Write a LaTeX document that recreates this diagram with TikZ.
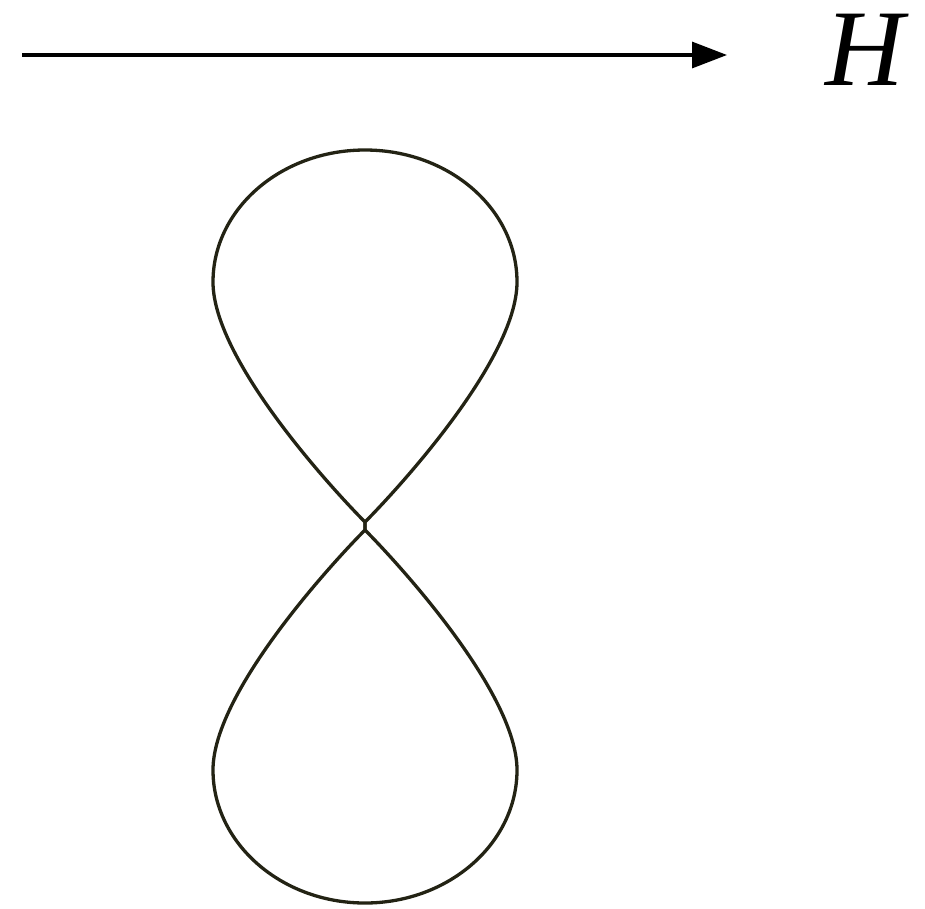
\documentclass[tikz,border=0pt]{standalone}
\usepackage{fontspec}
\newfontfamily\timesfont{Liberation Serif}
\usetikzlibrary{arrows.meta}
\definecolor{curvecol}{RGB}{35,35,20}
\begin{document}
\begin{tikzpicture}[x=1pt,y=-1pt,
  fieldarrow/.style={line width=3.2pt,-{Triangle[length=35pt,width=26pt]}},
  loopline/.style={line width=3.3pt,draw=curvecol,line join=round}]
\useasboundingbox (0,0) rectangle (925,908);
\coordinate (a0) at (22,55);
\coordinate (a1) at (727,55);
\draw[fieldarrow] (a0) -- (a1);
\node[inner sep=0pt,anchor=base] (H) at (865,85) {\timesfont\itshape\fontsize{109}{120}\selectfont H};
% upper lobe
\draw[loopline] (365,530) -- (365,522) .. controls (390,497) and (517,362) .. (517,282)
  .. controls (517,209) and (449,150) .. (365,150)
  .. controls (281,150) and (213,209) .. (213,282)
  .. controls (213,362) and (340,497) .. (365,522);
% lower lobe
\draw[loopline] (365,522) -- (365,530) .. controls (390,555) and (517,690) .. (517,770)
  .. controls (517,843) and (449,903) .. (365,903)
  .. controls (281,903) and (213,843) .. (213,770)
  .. controls (213,690) and (340,555) .. (365,530);
\end{tikzpicture}
\end{document}
